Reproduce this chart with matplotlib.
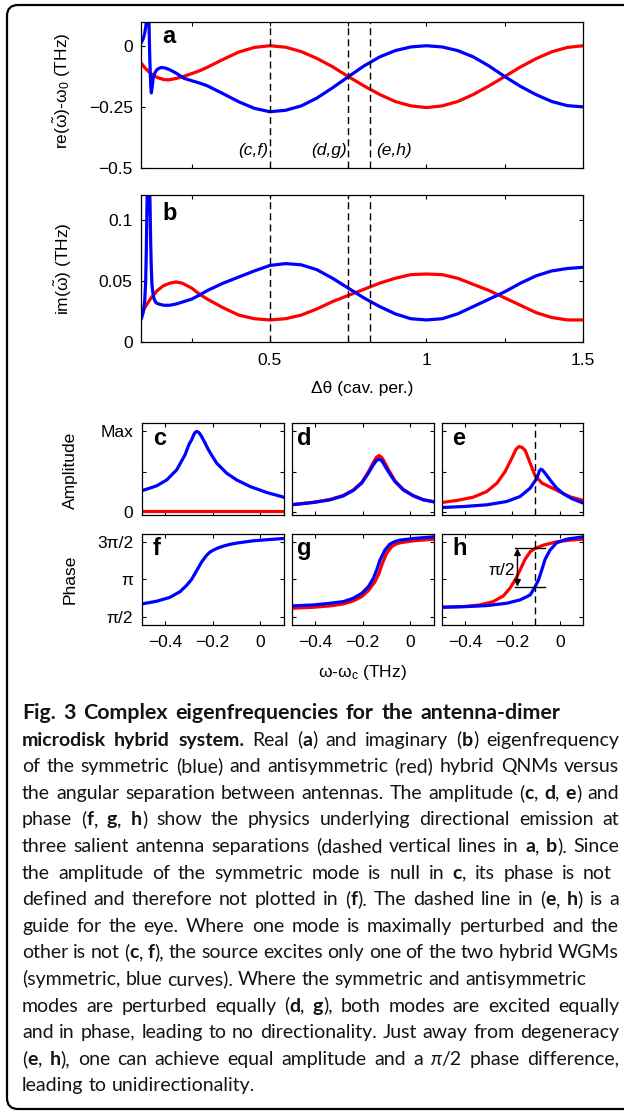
import matplotlib
matplotlib.use("Agg")
import matplotlib.pyplot as plt
from matplotlib.patches import FancyBboxPatch

W, H, DPI = 624, 1114, 100
plt.rcParams['font.family'] = ['Liberation Sans', 'DejaVu Sans']
plt.rcParams['mathtext.fontset'] = 'custom'
plt.rcParams['mathtext.rm'] = 'Liberation Sans'
plt.rcParams['mathtext.it'] = 'Liberation Sans:italic'
plt.rcParams['mathtext.bf'] = 'Liberation Sans:bold'

RED, BLUE = '#ff0000', '#0000ff'

# ---------------- data: panel a (real part) ----------------
theta_a_red = [0.088, 0.10, 0.12, 0.14, 0.16, 0.175, 0.20, 0.225, 0.25, 0.276, 0.30, 0.35, 0.40, 0.45,
               0.50, 0.55, 0.60, 0.65, 0.70, 0.75, 0.80, 0.85, 0.90, 0.95, 1.00, 1.05, 1.10, 1.15,
               1.20, 1.25, 1.30, 1.35, 1.40, 1.45, 1.50]
re_red = [-0.070, -0.090, -0.115, -0.130, -0.138, -0.140, -0.134, -0.125, -0.114, -0.102, -0.088,
          -0.056, -0.026, -0.007, 0.000, -0.006, -0.024, -0.052, -0.086, -0.126, -0.164, -0.199,
          -0.228, -0.246, -0.253, -0.246, -0.228, -0.199, -0.164, -0.126, -0.087, -0.053, -0.025,
          -0.007, 0.000]
theta_a_blue = [0.088, 0.095, 0.100, 0.104, 0.107, 0.110, 0.113, 0.116, 0.119, 0.121, 0.124, 0.127,
                0.132, 0.138, 0.146, 0.154, 0.165, 0.181, 0.20, 0.225, 0.25, 0.276, 0.30, 0.35,
                0.40, 0.45, 0.50, 0.55, 0.60, 0.65, 0.70, 0.75, 0.80, 0.85, 0.90, 0.95, 1.00,
                1.05, 1.10, 1.15, 1.20, 1.25, 1.30, 1.35, 1.40, 1.45, 1.50]
re_blue = [0.010, 0.028, 0.052, 0.085, 0.130, 0.200, 0.130, -0.050, -0.160, -0.193, -0.165, -0.132,
           -0.112, -0.099, -0.092, -0.089, -0.091, -0.099, -0.112, -0.133, -0.143, -0.153, -0.164,
           -0.196, -0.229, -0.256, -0.270, -0.264, -0.246, -0.214, -0.172, -0.127, -0.083,
           -0.046, -0.020, -0.005, 0.000, -0.005, -0.020, -0.046, -0.083, -0.126, -0.166,
           -0.200, -0.228, -0.245, -0.250]

# ---------------- data: panel b (imaginary part) ----------------
theta_b_red = [0.088, 0.10, 0.12, 0.14, 0.16, 0.18, 0.20, 0.22, 0.25, 0.276, 0.30, 0.35, 0.40, 0.45,
               0.50, 0.55, 0.60, 0.65, 0.70, 0.75, 0.80, 0.85, 0.90, 0.95, 1.00, 1.05, 1.10, 1.15,
               1.20, 1.25, 1.30, 1.35, 1.40, 1.45, 1.50]
im_red = [0.022, 0.028, 0.036, 0.042, 0.046, 0.048, 0.049, 0.048, 0.044, 0.0388, 0.035, 0.028, 0.022,
          0.019, 0.018, 0.019, 0.022, 0.027, 0.033, 0.038, 0.043, 0.048, 0.052, 0.055, 0.0555,
          0.055, 0.052, 0.047, 0.042, 0.036, 0.030, 0.024, 0.020, 0.018, 0.018]
theta_b_blue = [0.088, 0.095, 0.100, 0.103, 0.105, 0.107, 0.110, 0.114, 0.117, 0.119, 0.121, 0.123,
                0.126, 0.130, 0.136, 0.145, 0.160, 0.180, 0.20, 0.225, 0.25, 0.276, 0.30, 0.35,
                0.40, 0.45, 0.50, 0.55, 0.60, 0.65, 0.70, 0.75, 0.80, 0.85, 0.90, 0.95, 1.00,
                1.05, 1.10, 1.15, 1.20, 1.25, 1.30, 1.35, 1.40, 1.45, 1.50]
im_blue = [0.018, 0.024, 0.034, 0.050, 0.075, 0.110, 0.150, 0.150, 0.110, 0.080, 0.060, 0.047,
           0.040, 0.035, 0.032, 0.031, 0.030, 0.030, 0.031, 0.033, 0.035, 0.0385, 0.042, 0.048,
           0.053, 0.058, 0.0625, 0.064, 0.063, 0.059, 0.052, 0.044, 0.036, 0.029, 0.023, 0.019,
           0.018, 0.019, 0.023, 0.029, 0.035, 0.041, 0.048, 0.054, 0.058, 0.060, 0.061]

theta_marks = [0.5, 0.75, 0.82]
mark_labels = ['(c,f)', '(d,g)', '(e,h)']

# ---------------- data: amplitude panels c, d, e ----------------
w_c_blue = [-0.5, -0.437, -0.394, -0.352, -0.317, -0.30, -0.289, -0.28, -0.275, -0.268, -0.26,
            -0.255, -0.247, -0.232, -0.218, -0.200, -0.183, -0.141, -0.099, -0.042, 0.028, 0.1]
amp_c_blue = [0.265, 0.326, 0.40, 0.525, 0.71, 0.84, 0.897, 0.96, 0.985, 1.0, 0.99, 0.975, 0.938,
              0.855, 0.773, 0.685, 0.607, 0.483, 0.40, 0.318, 0.244, 0.186]
w_c_red = [-0.5, -0.2, 0.1]
amp_c_red = [0.016, 0.016, 0.016]

w_d = [-0.5, -0.408, -0.338, -0.282, -0.240, -0.204, -0.176, -0.155, -0.142, -0.131, -0.120,
       -0.113, -0.092, -0.064, -0.029, 0.014, 0.056, 0.1]
amp_d_blue = [0.091, 0.12, 0.153, 0.202, 0.269, 0.36, 0.483, 0.587, 0.64, 0.657, 0.64, 0.607,
              0.504, 0.38, 0.277, 0.202, 0.153, 0.128]
amp_d_red = [0.094, 0.123, 0.157, 0.207, 0.275, 0.37, 0.50, 0.616, 0.68, 0.702, 0.68, 0.649,
             0.533, 0.39, 0.282, 0.205, 0.155, 0.13]

w_e_red = [-0.5, -0.436, -0.366, -0.309, -0.266, -0.231, -0.203, -0.185, -0.172, -0.158, -0.146,
           -0.125, -0.104, -0.075, -0.040, 0.002, 0.045, 0.1]
amp_e_red = [0.12, 0.145, 0.186, 0.256, 0.36, 0.504, 0.669, 0.78, 0.814, 0.80, 0.764, 0.607,
             0.45, 0.36, 0.31, 0.25, 0.19, 0.145]
w_e_blue = [-0.5, -0.408, -0.309, -0.225, -0.168, -0.125, -0.097, -0.086, -0.080, -0.072, -0.062,
            -0.041, -0.013, 0.016, 0.051, 0.1]
amp_e_blue = [0.058, 0.070, 0.091, 0.132, 0.194, 0.298, 0.421, 0.51, 0.533, 0.52, 0.483, 0.40,
              0.298, 0.227, 0.169, 0.112]

# ---------------- data: phase panels f, g, h ----------------
w_f_blue = [-0.5, -0.437, -0.380, -0.338, -0.310, -0.289, -0.268, -0.246, -0.225, -0.211, -0.197,
            -0.176, -0.155, -0.127, -0.099, -0.060, -0.028, 0.042, 0.1]
ph_f_blue = [2.117, 2.228, 2.394, 2.629, 2.892, 3.142, 3.502, 3.875, 4.152, 4.280, 4.360, 4.455,
             4.526, 4.600, 4.650, 4.705, 4.747, 4.802, 4.844]

w_g_blue = [-0.5, -0.408, -0.338, -0.282, -0.240, -0.204, -0.176, -0.155, -0.141, -0.127, -0.106,
            -0.085, -0.064, -0.042, 0.014, 0.1]
ph_g_blue = [2.035, 2.076, 2.145, 2.214, 2.353, 2.560, 2.837, 3.183, 3.529, 3.944, 4.360, 4.609,
             4.715, 4.775, 4.844, 4.913]
w_g_red = [-0.5, -0.408, -0.338, -0.282, -0.240, -0.204, -0.176, -0.148, -0.131, -0.117, -0.099,
           -0.078, -0.060, -0.042, 0.014, 0.1]
ph_g_red = [1.937, 1.979, 2.035, 2.117, 2.242, 2.422, 2.671, 3.045, 3.391, 3.806, 4.221, 4.498,
            4.610, 4.664, 4.747, 4.816]

w_h_red = [-0.5, -0.408, -0.338, -0.282, -0.239, -0.211, -0.189, -0.168, -0.147, -0.125, -0.104,
           -0.069, -0.013, 0.044, 0.1]
ph_h_red = [1.979, 2.007, 2.076, 2.214, 2.450, 2.768, 3.114, 3.529, 3.972, 4.290, 4.429, 4.567,
            4.706, 4.775, 4.816]
w_h_blue = [-0.5, -0.394, -0.309, -0.225, -0.168, -0.125, -0.104, -0.090, -0.076, -0.062, -0.041,
            -0.013, 0.030, 0.1]
ph_h_blue = [1.979, 2.007, 2.048, 2.145, 2.284, 2.491, 2.837, 3.114, 3.529, 3.972, 4.360, 4.664,
             4.816, 4.913]

w_guide = -0.105
h_span = [-0.189, -0.062]
h_levels = [4.435, 2.837]
h_arrow_x = -0.179

theta_ticks = [0.25, 0.5, 0.75, 1.0, 1.25, 1.5]
theta_ticklabels = ['', '0.5', '', '1', '', '1.5']
re_ticks = [-0.5, -0.25, 0.0]
re_ticklabels = ['\u22120.5', '\u22120.25', '0']
im_ticks = [0.0, 0.05, 0.1]
im_ticklabels = ['0', '0.05', '0.1']
w_ticks = [-0.4, -0.2, 0.0]
w_ticklabels = ['\u22120.4', '\u22120.2', '0']
amp_ticks = [0.0, 0.5, 1.0]
amp_ticklabels = ['0', '', 'Max']
ph_ticks = [1.5708, 3.1416, 4.7124]
ph_ticklabels = ['\u03c0/2', '\u03c0', '3\u03c0/2']

FS = 12.5
fig = plt.figure(figsize=(W / DPI, H / DPI), dpi=DPI)


def px_axes(l, t, r, b):
    return fig.add_axes([l / W, 1 - b / H, (r - l) / W, (b - t) / H])


def style(ax, xlim, ylim, xt, xtl, yt, ytl, xpad=8, ypad=6):
    ax.set_xlim(xlim)
    ax.set_ylim(ylim)
    ax.set_xticks(xt)
    ax.set_xticklabels(xtl)
    ax.set_yticks(yt)
    ax.set_yticklabels(ytl)
    ax.tick_params(direction='in', top=True, right=True, length=3.2, width=0.8,
                   labelsize=FS, colors='k')
    ax.tick_params(axis='x', pad=xpad)
    ax.tick_params(axis='y', pad=ypad)
    for s in ax.spines.values():
        s.set_linewidth(0.9)


LW = 2.3
dash = (0, (5, 3))

# panel a
axa = px_axes(141, 22, 583, 168)
axa.plot(theta_a_red, re_red, color=RED, lw=LW, solid_capstyle='butt')
axa.plot(theta_a_blue, re_blue, color=BLUE, lw=LW, solid_capstyle='butt')
for xm in theta_marks:
    axa.axvline(xm, color='k', lw=1.0, ls=dash)
style(axa, (0.088, 1.5), (-0.5, 0.097), theta_ticks, [''] * 6, re_ticks, re_ticklabels)
for xm, lab, ha, dx in zip(theta_marks, mark_labels, ['right', 'right', 'left'], [-0.005, -0.005, 0.018]):
    axa.text(xm + dx, -0.43, lab, style='italic', fontsize=FS, ha=ha, va='center')

# panel b
axb = px_axes(141, 195, 583, 342)
axb.plot(theta_b_red, im_red, color=RED, lw=LW, solid_capstyle='butt')
axb.plot(theta_b_blue, im_blue, color=BLUE, lw=LW, solid_capstyle='butt')
for xm in theta_marks:
    axb.axvline(xm, color='k', lw=1.0, ls=dash)
style(axb, (0.088, 1.5), (0.0, 0.12), theta_ticks, theta_ticklabels, im_ticks, im_ticklabels)

# small panels
xs = [(141.7, 283.7), (291.7, 433.7), (441.7, 583.3)]
amp_axes = [px_axes(l, 423, r, 515) for l, r in xs]
ph_axes = [px_axes(l, 534, r, 625) for l, r in xs]

ax = amp_axes[0]
ax.plot(w_c_red, amp_c_red, color=RED, lw=LW)
ax.plot(w_c_blue, amp_c_blue, color=BLUE, lw=LW)
ax = amp_axes[1]
ax.plot(w_d, amp_d_red, color=RED, lw=LW)
ax.plot(w_d, amp_d_blue, color=BLUE, lw=LW)
ax = amp_axes[2]
ax.plot(w_e_red, amp_e_red, color=RED, lw=LW)
ax.plot(w_e_blue, amp_e_blue, color=BLUE, lw=LW)
ax.axvline(w_guide, color='k', lw=1.0, ls=dash)

ax = ph_axes[0]
ax.plot(w_f_blue, ph_f_blue, color=BLUE, lw=LW)
ax = ph_axes[1]
ax.plot(w_g_red, ph_g_red, color=RED, lw=LW)
ax.plot(w_g_blue, ph_g_blue, color=BLUE, lw=LW)
ax = ph_axes[2]
ax.plot(w_h_red, ph_h_red, color=RED, lw=LW)
ax.plot(w_h_blue, ph_h_blue, color=BLUE, lw=LW)
ax.axvline(w_guide, color='k', lw=1.0, ls=dash)
for lv in h_levels:
    ax.plot(h_span, [lv, lv], color='k', lw=1.0)
ax.annotate('', xy=(h_arrow_x, h_levels[0]), xytext=(h_arrow_x, h_levels[1]),
            arrowprops=dict(arrowstyle='<|-|>', color='k', lw=1.0, mutation_scale=10,
                            shrinkA=0, shrinkB=0))
ax.text(h_arrow_x - 0.012, 3.53, '\u03c0/2', fontsize=FS, ha='right', va='center')

for i, ax in enumerate(amp_axes):
    style(ax, (-0.5, 0.1), (-0.035, 1.105), w_ticks, [''] * 3, amp_ticks,
          amp_ticklabels if i == 0 else [''] * 3)
for i, ax in enumerate(ph_axes):
    style(ax, (-0.5, 0.1), (1.24, 5.03), w_ticks, w_ticklabels, ph_ticks,
          ph_ticklabels if i == 0 else [''] * 3, xpad=7)


def ftext(x, y, s, **kw):
    return fig.text(x / W, 1 - y / H, s, **kw)


# panel letters
for (x, y), s in zip([(162, 43), (162, 220), (153, 445), (297, 445), (452, 445),
                      (153, 555), (297, 555), (452, 555)], 'abcdefgh'):
    ftext(x, y, s, fontsize=17, fontweight='bold', ha='left', va='baseline')

# axis labels
ftext(62, 91, r're($\tilde{\mathrm{\omega}}$)-$\mathrm{\omega}_0$ (THz)', rotation=90,
      ha='center', va='center', fontsize=FS)
ftext(63, 269, r'im($\tilde{\mathrm{\omega}}$) (THz)', rotation=90, ha='center', va='center',
      fontsize=FS)
ftext(70, 470, 'Amplitude', rotation=90, ha='center', va='center', fontsize=FS)
ftext(70, 579, 'Phase', rotation=90, ha='center', va='center', fontsize=FS)
ftext(362, 388, '\u0394\u03b8 (cav. per.)', ha='center', va='center', fontsize=FS)
ftext(362, 672, '\u03c9-\u03c9$_\\mathrm{c}$ (THz)', ha='center', va='center', fontsize=FS)

# ---------------- caption ----------------
caption_lines = [
    "*Fig. 3 Complex eigenfrequencies for the antenna-dimer*",
    "*microdisk hybrid system.* Real (*a*) and imaginary (*b*) eigenfrequency",
    "of the symmetric (blue) and antisymmetric (red) hybrid QNMs versus",
    "the angular separation between antennas. The amplitude (*c*, *d*, *e*) and",
    "phase (*f*, *g*, *h*) show the physics underlying directional emission at",
    "three salient antenna separations (dashed vertical lines in *a*, *b*). Since",
    "the amplitude of the symmetric mode is null in *c*, its phase is not",
    "defined and therefore not plotted in (*f*). The dashed line in (*e*, *h*) is a",
    "guide for the eye. Where one mode is maximally perturbed and the",
    "other is not (*c*, *f*), the source excites only one of the two hybrid WGMs",
    "(symmetric, blue curves). Where the symmetric and antisymmetric",
    "modes are perturbed equally (*d*, *g*), both modes are excited equally",
    "and in phase, leading to no directionality. Just away from degeneracy",
    "(*e*, *h*), one can achieve equal amplitude and a _\u03c0_/2 phase difference,",
    "leading to unidirectionality.",
]
# right edge of each line in pixels (None = natural spacing)
line_right = [560, 619, 619, 619, 619, 619, 612, 619, 619, 619, None, 619, 619, 619, None]

CAP_FAMILY = ['Lato', 'DejaVu Sans']
renderer = fig.canvas.get_renderer()


def parse(line):
    words, cur, buf, bold, ital = [], [], '', False, False
    for ch in line:
        if ch in '*_':
            if buf:
                cur.append((buf, bold, ital))
                buf = ''
            if ch == '*':
                bold = not bold
            else:
                ital = not ital
        elif ch == ' ':
            if buf:
                cur.append((buf, bold, ital))
                buf = ''
            if cur:
                words.append(cur)
                cur = []
        else:
            buf += ch
    if buf:
        cur.append((buf, bold, ital))
    if cur:
        words.append(cur)
    return words


def seg_kw(bold, ital, size):
    return dict(fontsize=size, fontfamily=CAP_FAMILY, fontweight='bold' if bold else 'normal',
                style='italic' if ital else 'normal', color='#141414')


def measure(s, bold, ital, size):
    t = fig.text(0, 0, s, **seg_kw(bold, ital, size))
    w = t.get_window_extent(renderer).width
    t.remove()
    return w


LEFT = 22
base = 12.0
parsed = [parse(l) for l in caption_lines]


def natural(words, size):
    ws = [sum(measure(s, b, i, size) for s, b, i in w) for w in words]
    sp = measure('a a', False, False, size) - measure('aa', False, False, size)
    return ws, sp


def nat_width(words, size):
    ws, sp = natural(words, size)
    return sum(ws) + sp * (len(ws) - 1)


# body size: the last line "leading to unidirectionality." spans ~233 px
CAP_FS = base * 233.0 / nat_width(parsed[-1], base)
CAP_FS = max(10.5, min(14.0, CAP_FS))
TITLE_FS = CAP_FS * 1.1

y0, dy = 719, 26.6
for k, (words, right) in enumerate(zip(parsed, line_right)):
    size = TITLE_FS if k == 0 else CAP_FS
    ws, sp = natural(words, size)
    if right is not None and len(ws) > 1:
        sp = max(1.8, (right - LEFT - sum(ws)) / (len(ws) - 1))
    x = LEFT
    y = y0 + k * dy
    for w, wwid in zip(words, ws):
        xx = x
        for s, b, i in w:
            ftext(xx, y, s, ha='left', va='baseline', **seg_kw(b, i, size))
            xx += measure(s, b, i, size)
        x += wwid + sp

# border
box = FancyBboxPatch((7, H - 1109), 650, 1104, boxstyle='round,pad=0,rounding_size=11',
                     transform=None, fill=False, lw=1.6, ec='k')
fig.add_artist(box)

fig.savefig('out.png', dpi=DPI)
